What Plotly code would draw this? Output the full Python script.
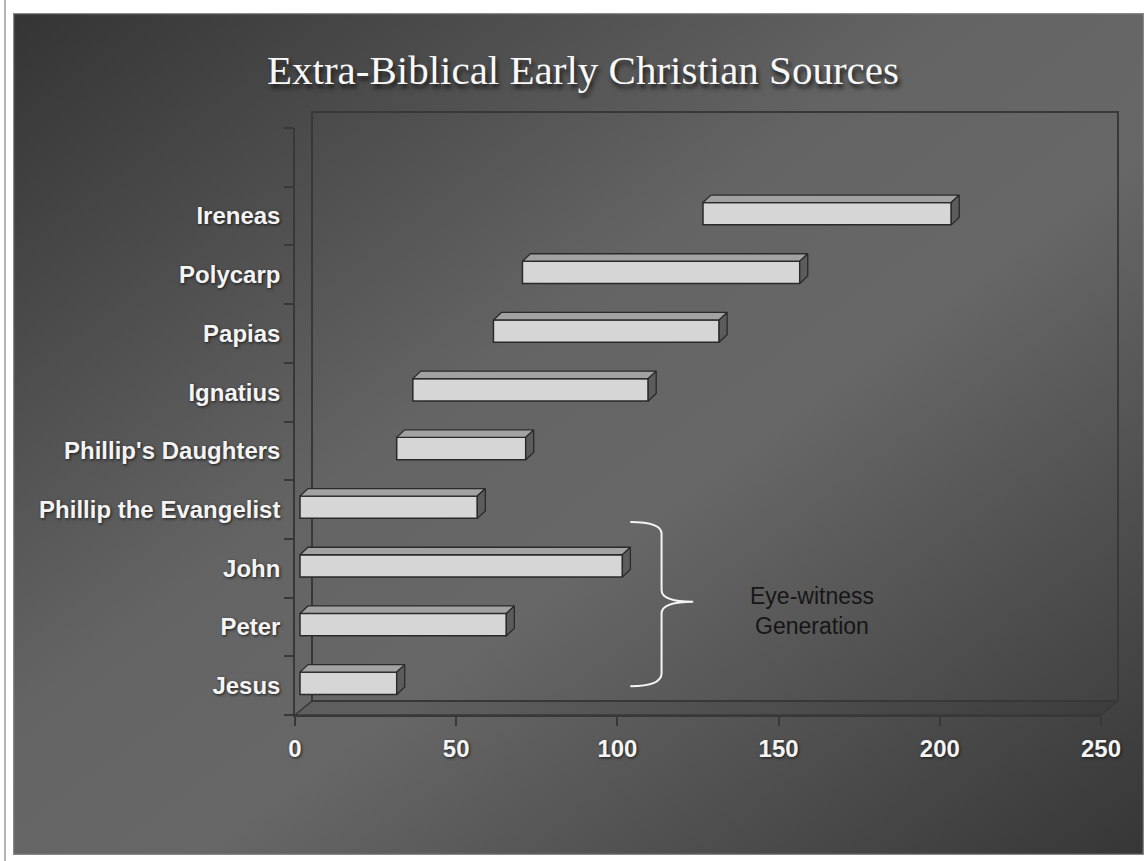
import base64
import plotly.graph_objects as go

# ---- data -------------------------------------------------------------
people = ["Jesus", "Peter", "John", "Phillip the Evangelist", "Phillip's Daughters",
          "Ignatius", "Papias", "Polycarp", "Ireneas"]
start_years = [0, 0, 0, 0, 30, 35, 60, 69, 125]
end_years = [30, 64, 100, 55, 70, 108, 130, 155, 202]
x_ticks = [0, 50, 100, 150, 200, 250]
title_text = "Extra-Biblical Early Christian Sources"
note_text = "Eye-witness<br>Generation"

# ---- geometry helpers (pixel <-> data) --------------------------------
W, H = 1144, 861
ML, MR, MT, MB = 295, 43, 128, 146
PW, PH = W - ML - MR, H - MT - MB
XMAX = 250.0
YMIN, YMAX = -0.5, 9.5


def px_to_paper_x(px):
    return (px - ML) / PW


def px_to_paper_y(py):
    return (H - MB - py) / PH


ux = XMAX / PW            # data units per pixel (x)
uy = (YMAX - YMIN) / PH   # data units per pixel (y)

pos = list(range(len(people)))
bar_w = 0.38
bar_off = 0.04
depth_shift = 5 * ux      # bars sit a little behind the front axis plane
dx, dy = 8 * ux, 7.5 * uy

fig = go.Figure()

# front faces
fig.add_trace(go.Bar(
    y=pos, x=[e - s for s, e in zip(start_years, end_years)],
    base=[s + depth_shift for s in start_years],
    orientation="h", width=bar_w, offset=-bar_w / 2 + bar_off,
    marker=dict(color="#d6d6d6", line=dict(color="#2a2a2a", width=1.5)),
    hoverinfo="skip", showlegend=False,
))

# top and side faces (3D extrusion)
top_x, top_y, side_x, side_y = [], [], [], []
for p, s, e in zip(pos, start_years, end_years):
    s2, e2 = s + depth_shift, e + depth_shift
    yb = p - bar_w / 2 + bar_off
    yt = p + bar_w / 2 + bar_off
    top_x += [s2, e2, e2 + dx, s2 + dx, s2, None]
    top_y += [yt, yt, yt + dy, yt + dy, yt, None]
    side_x += [e2, e2, e2 + dx, e2 + dx, e2, None]
    side_y += [yb, yt, yt + dy, yb + dy, yb, None]

fig.add_trace(go.Scatter(x=top_x, y=top_y, mode="lines", fill="toself",
                         fillcolor="#a2a2a2", line=dict(color="#2a2a2a", width=1.3),
                         hoverinfo="skip", showlegend=False))
fig.add_trace(go.Scatter(x=side_x, y=side_y, mode="lines", fill="toself",
                         fillcolor="#5c5c5c", line=dict(color="#2a2a2a", width=1.3),
                         hoverinfo="skip", showlegend=False))

# ---- background gradient panel ---------------------------------------
svg = ('<svg xmlns="http://www.w3.org/2000/svg" width="1131" height="842" '
       'viewBox="0 0 1131 842" preserveAspectRatio="none">'
       '<defs><linearGradient id="g" x1="0" y1="0" x2="1" y2="1">'
       '<stop offset="0" stop-color="#343434"/>'
       '<stop offset="0.42" stop-color="#646464"/>'
       '<stop offset="0.58" stop-color="#676767"/>'
       '<stop offset="1" stop-color="#363636"/>'
       '</linearGradient></defs>'
       '<rect width="1131" height="842" fill="url(#g)"/>'
       '<rect x="0.5" y="0.5" width="1130" height="841" fill="none" stroke="#888" stroke-width="1.5"/>'
       '</svg>')
src = "data:image/svg+xml;base64," + base64.b64encode(svg.encode()).decode()
px0, py0, px1, py1 = 13, 13, 1144, 855
fig.add_layout_image(dict(
    source=src, xref="paper", yref="paper",
    x=px_to_paper_x(px0), y=px_to_paper_y(py0),
    sizex=(px1 - px0) / PW, sizey=(py1 - py0) / PH,
    xanchor="left", yanchor="top", sizing="stretch", layer="below",
))

# ---- 3D frame: back wall and floor ------------------------------------
wx, wy = px_to_paper_x(312), px_to_paper_y(701)
wx1, wy1 = px_to_paper_x(1118), px_to_paper_y(112)
line_col = "#383838"
shapes = [
    dict(type="rect", xref="paper", yref="paper", x0=wx, x1=wx1, y0=wy, y1=wy1,
         line=dict(color=line_col, width=2), fillcolor="rgba(0,0,0,0)", layer="below"),
    dict(type="path", xref="paper", yref="paper",
         path=f"M 0,0 L 1,0 L {wx1},{wy} L {wx},{wy} Z",
         line=dict(color=line_col, width=1.5), fillcolor="rgba(0,0,0,0.07)", layer="below"),
    dict(type="line", xref="paper", yref="paper",
         x0=px_to_paper_x(5), x1=px_to_paper_x(5), y0=px_to_paper_y(0), y1=px_to_paper_y(861),
         line=dict(color="#9a9a9a", width=1.5)),
]

# curly brace for eye-witness generation
bx0, bxm, bxt = 104, 113.7, 123.5
by_top, by_tip, by_bot = 2.79, 1.43, -0.01
brace = (f"M {bx0},{by_top} Q {bxm},{by_top} {bxm},{by_top - 0.2} "
         f"L {bxm},{by_tip + 0.2} Q {bxm},{by_tip} {bxt},{by_tip} "
         f"Q {bxm},{by_tip} {bxm},{by_tip - 0.2} "
         f"L {bxm},{by_bot + 0.22} Q {bxm},{by_bot} {bx0},{by_bot}")
shapes.append(dict(type="path", xref="x", yref="y", path=brace,
                   line=dict(color="#f4f4f4", width=2)))

tick_font = dict(family="Liberation Sans", size=24, color="#f4f4f4", weight="bold",
                 shadow="1px 1px 3px #1a1a1a")

fig.update_layout(
    width=W, height=H,
    margin=dict(l=ML, r=MR, t=MT, b=MB, pad=0),
    paper_bgcolor="white", plot_bgcolor="rgba(0,0,0,0)",
    showlegend=False, hovermode=False,
    shapes=shapes,
    xaxis=dict(range=[0, XMAX], tickvals=x_ticks, ticks="outside", ticklen=9,
               tickcolor=line_col, tickwidth=1.5, showgrid=False, zeroline=False,
               showline=True, linecolor=line_col, linewidth=1.5,
               tickfont=tick_font, ticklabelstandoff=2, fixedrange=True),
    yaxis=dict(range=[YMIN, YMAX], tickvals=pos, ticktext=people, ticks="",
               showgrid=False, zeroline=False, showline=True, linecolor=line_col,
               linewidth=1.5, tickfont=tick_font, ticklabelstandoff=8,
               minor=dict(tickvals=[p - 0.5 for p in range(len(people) + 2)],
                          ticks="outside", ticklen=9, tickcolor=line_col, tickwidth=1.5,
                          showgrid=False),
               fixedrange=True),
    annotations=[
        dict(text=title_text, xref="paper", yref="paper",
             x=px_to_paper_x(583), y=px_to_paper_y(70), xanchor="center", yanchor="middle",
             showarrow=False,
             font=dict(family="Liberation Serif", size=41, color="#f8f8f8",
                       shadow="2px 4px 4px #1a1a1a")),
        dict(text=note_text, xref="x", yref="y", x=160.5, y=1.27,
             xanchor="center", yanchor="middle", showarrow=False,
             font=dict(family="Liberation Sans", size=23, color="#161616")),
    ],
)

fig.write_html("out.html")
